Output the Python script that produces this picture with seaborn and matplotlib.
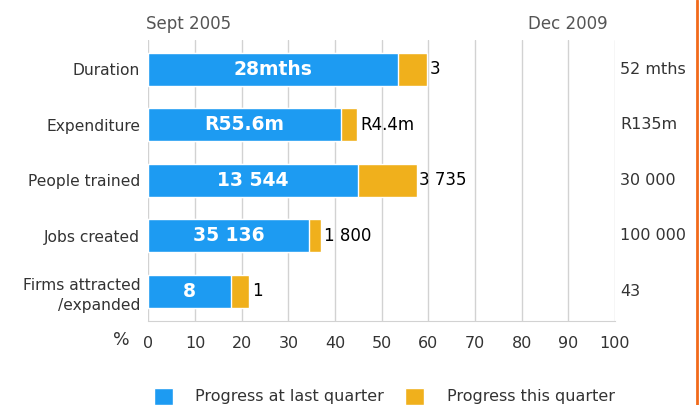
"""Project progress chart: stacked horizontal bars, % of target."""

import matplotlib
matplotlib.use("Agg")
import matplotlib.pyplot as plt
from matplotlib.lines import Line2D
from matplotlib.patches import Patch
import pandas as pd
import seaborn as sns

# data (percent of target)
categories = ["Duration", "Expenditure", "People trained", "Jobs created",
              "Firms attracted\n/expanded"]
last_quarter_pct = [53.5, 41.2, 44.9, 34.5, 17.6]
this_quarter_pct = [6.2, 3.6, 12.6, 2.5, 4.0]
last_quarter_labels = ["28mths", "R55.6m", "13 544", "35 136", "8"]
this_quarter_labels = ["3", "R4.4m", "3 735", "1 800", "1"]
target_labels = ["52 mths", "R135m", "30 000", "100 000", "43"]
x_ticks = [0, 10, 20, 30, 40, 50, 60, 70, 80, 90, 100]

BLUE = "#1d9bf2"
ORANGE = "#f0b01c"
GRID = "#d2d2d2"
TEXT = "#333333"

df = pd.DataFrame({
    "category": categories,
    "last": last_quarter_pct,
    "this": this_quarter_pct,
})
df["total"] = df["last"] + df["this"]

sns.set_style("white")
plt.rcParams["font.family"] = ["DejaVu Sans"]

fig = plt.figure(figsize=(7, 4.05), dpi=100)
ax = fig.add_axes([0.2121, 0.2074, 0.6664, 0.6938])

# orange = total, blue drawn over it
sns.barplot(data=df, y="category", x="total", color=ORANGE, orient="h",
            width=0.595, saturation=1, ax=ax, zorder=3)
sns.barplot(data=df, y="category", x="last", color=BLUE, orient="h",
            width=0.595, saturation=1, ax=ax, zorder=3)

ax.set_xlim(0, 100)
ax.set_ylim(4.54, -0.53)
ax.set_xticks(x_ticks)
ax.set_xticklabels([str(t) for t in x_ticks])
ax.set_xlabel("")
ax.set_ylabel("")
ax.grid(axis="x", color=GRID, lw=1, zorder=0)
ax.set_axisbelow(True)
for side in ["top", "right", "left"]:
    ax.spines[side].set_visible(False)
ax.spines["bottom"].set_color(GRID)
ax.tick_params(axis="x", colors=GRID, length=6, width=1, labelcolor=TEXT,
               labelsize=11.5, pad=5)
ax.tick_params(axis="y", length=0, labelcolor=TEXT, labelsize=11.2, pad=6)
for lbl in ax.get_yticklabels():
    lbl.set_linespacing(1.45)

for i in range(len(categories)):
    ax.text(df["last"][i] / 2, i, last_quarter_labels[i], color="white",
            fontsize=13.5, fontweight="bold", ha="center", va="center",
            zorder=4)
    ax.text(df["total"][i] + 0.6, i, this_quarter_labels[i], color="black",
            fontsize=12, ha="left", va="center", zorder=4)
    ax.text(1.011, i, target_labels[i], color=TEXT, fontsize=11.5,
            ha="left", va="center", transform=ax.get_yaxis_transform())

ax.text(8.6, 1.057, "Sept 2005", color="#555555", fontsize=12,
        ha="center", va="center", transform=ax.get_xaxis_transform())
ax.text(90, 1.057, "Dec 2009", color="#555555", fontsize=12,
        ha="center", va="center", transform=ax.get_xaxis_transform())
ax.text(-5.8, -0.068, "%", color=TEXT, fontsize=12.5, ha="center",
        va="center", transform=ax.get_xaxis_transform())

handles = [Patch(facecolor=BLUE, label="Progress at last quarter"),
           Patch(facecolor=ORANGE, label="Progress this quarter")]
fig.legend(handles=handles, loc="center", bbox_to_anchor=(0.549, 0.022),
           ncol=2, frameon=False, fontsize=11.5, handlelength=1.2,
           handleheight=1.25, columnspacing=1.3, handletextpad=1.4,
           labelcolor=TEXT)

fig.add_artist(Line2D([0.995, 0.995], [0, 1], color="#f26a1b", lw=2))

plt.savefig("out.png", dpi=100)
